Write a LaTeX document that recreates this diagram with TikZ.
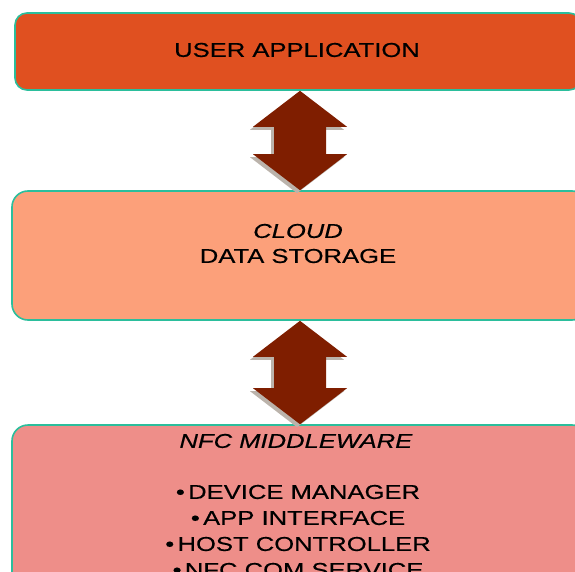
\documentclass[tikz,border=0pt]{standalone}
\usepackage{fontspec}
\setmainfont[FakeStretch=1.28,FakeBold=0.4]{Liberation Sans}
\usetikzlibrary{shapes.geometric, arrows}
\definecolor{userred}{HTML}{E05020}
\definecolor{cloudpeach}{HTML}{FCA07A}
\definecolor{nfcpink}{HTML}{EE8E89}
\definecolor{tealline}{HTML}{2BBE9C}
\definecolor{linkbrown}{HTML}{7F1E00}
\definecolor{shadowgrey}{HTML}{BBB3AB}
\tikzstyle{layer} = [rectangle, rounded corners=16pt, draw=tealline, line width=1.6pt, inner sep=0pt]
\tikzstyle{caption} = [font=\fontsize{20}{26}\selectfont, text=black, align=center, inner sep=0pt]
\tikzstyle{link} = [fill=linkbrown]
\tikzstyle{linkshadow} = [fill=shadowgrey, transform canvas={shift={(-3pt,-3pt)}}]
% two-headed block arrow from the bottom of #1 to the top of #2
\newcommand{\updown}[3]{
	\fill [#3] (#1.south -| #2.north) -- ++(47,-36) -- ++(-21,0) -- ([xshift=26pt,yshift=36pt]#2.north) -- ++(21,0) -- (#2.north) -- ++(-47,36) -- ++(21,0) -- ([xshift=-26pt,yshift=-36pt]#1.south -| #2.north) -- ++(-21,0) -- cycle;
}

\begin{document}
\begin{tikzpicture}[x=1pt,y=1pt]
	\useasboundingbox (0,0) rectangle (575,-572);
	\clip (0,0) rectangle (575,-572);
	            \node [layer, fill=userred, rounded corners=12pt, minimum width=566pt, minimum height=77pt] at (298,-51.5) (user) {};
	            \node [layer, fill=cloudpeach, minimum width=576pt, minimum height=129pt] at (300,-255.5) (cloud) {};
	            \node [layer, fill=nfcpink, minimum width=576pt, minimum height=200pt] at (300,-525) (nfc) {};

	            \node [caption] at (297,-50) (usertxt) {USER APPLICATION};
	            \node [caption] at (298,-231) (cloudtxt) {\textit{CLOUD}};
	            \node [caption] at (298,-256) (storetxt) {DATA STORAGE};
	            \node [caption] at (296,-441) (nfctxt) {\textit{NFC MIDDLEWARE}};
	            \node [caption] at (298,-531) (nfclist) {\textbullet\,DEVICE MANAGER\\ \textbullet\,APP INTERFACE\\ \textbullet\,HOST CONTROLLER\\ \textbullet\,NFC COM SERVICE};

	            \updown{user}{cloud}{linkshadow}
	            \updown{user}{cloud}{link}
	            \updown{cloud}{nfc}{linkshadow}
	            \updown{cloud}{nfc}{link}
\end{tikzpicture}
\end{document}
